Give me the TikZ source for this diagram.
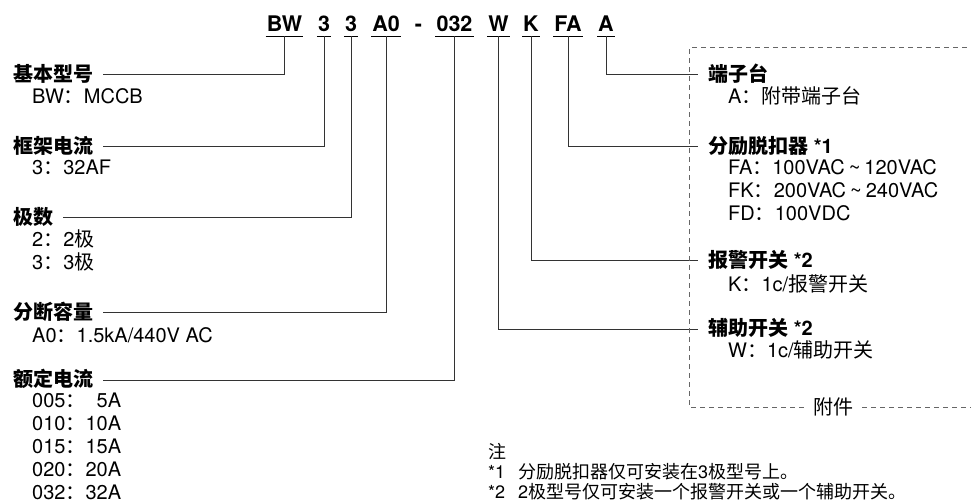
\documentclass[tikz,border=0pt]{standalone}
\usepackage{fontspec}
\setmainfont{TeX Gyre Heros}
\newfontfamily\cjkfont{Noto Sans CJK SC}
\newcommand{\zh}[1]{{\cjkfont #1}}
\usepackage{tikz}
\usetikzlibrary{positioning}

\begin{document}
\begin{tikzpicture}[x=1pt, y=-1pt]
        \tikzstyle{code}=[font=\fontsize{21.5}{24}\selectfont\bfseries,
            anchor=base, inner xsep=1pt, inner ysep=4pt, text depth=0pt]
        \tikzstyle{head}=[font=\fontsize{20}{23}\selectfont\bfseries,
            anchor=west, inner sep=0pt, text height=14pt, text depth=1pt]
        \tikzstyle{item}=[font=\fontsize{20}{23}\selectfont, align=left,
            inner sep=0pt, anchor=base west]
        \tikzstyle{lead}=[black!80, line width=1pt, shorten >=10pt]
        \tikzstyle{frame}=[black!60, line width=1pt, dash pattern=on 5pt off 4pt]
        \newcommand{\tl}{\hspace{4pt}\textasciitilde\hspace{4pt}}

        \useasboundingbox (0,0) rectangle (971,502);

        % model code
        \node[code] (bw) at (284.5,32) {BW};
        \node[code] (fr) at (324,32) {3};
        \node[code] (po) at (351,32) {3};
        \node[code] (bc) at (386,32) {A0};
        \node[code] (dash) at (418.5,32) {-};
        \node[code] (rc) at (454.5,32) {032};
        \node[code] (aux) at (498.5,32) {W};
        \node[code] (alm) at (531,32) {K};
        \node[code] (sht) at (568,32) {FA};
        \node[code] (trm) at (606,32) {A};
        \foreach \n in {bw,fr,po,bc,rc,aux,alm,sht,trm}
            \draw[line width=1pt] (\n.south west) -- (\n.south east);

        % left side (items anchored at the baseline of their last line)
        \node[head] (base) at (13,75) {\zh{基本型号}};
        \node[item] (basei) at (32,104) {BW\zh{：}MCCB};
        \node[head] (frame) at (13,147) {\zh{框架电流}};
        \node[item] (framei) at (32,175) {3\zh{：}32AF};
        \node[head] (poles) at (13,218) {\zh{极数}};
        \node[item] (polesi) at (32,270) {2\zh{：}2\zh{极}\\3\zh{：}3\zh{极}};
        \node[head] (bcap) at (13,313) {\zh{分断容量}};
        \node[item] (bcapi) at (32,342) {A0\zh{：}1.5kA/440V AC};
        \node[head] (rated) at (13,380) {\zh{额定电流}};
        \node[item] (ratedi) at (32,499)
            {005\zh{：}\hphantom{0}5A\\010\zh{：}10A\\015\zh{：}15A\\020\zh{：}20A\\032\zh{：}32A};

        % right side
        \node[head] (term) at (708,75) {\zh{端子台}};
        \node[item] (termi) at (728,104) {A\zh{：附带端子台}};
        \node[head] (shunt) at (708,147) {\zh{分励脱扣器} *1};
        \node[item] (shunti) at (728,221)
            {FA\zh{：}100VAC\tl 120VAC\\FK\zh{：}200VAC\tl 240VAC\\FD\zh{：}100VDC};
        \node[head] (alarm) at (708,261) {\zh{报警开关} *2};
        \node[item] (alarmi) at (728,292) {K\zh{：}1c/\zh{报警开关}};
        \node[head] (auxh) at (708,329) {\zh{辅助开关} *2};
        \node[item] (auxi) at (728,357) {W\zh{：}1c/\zh{辅助开关}};

        % leads
        \draw[lead] (bw.south) |- (base.east);
        \draw[lead] (fr.south) |- (frame.east);
        \draw[lead] (po.south) |- (poles.east);
        \draw[lead] (bc.south) |- (bcap.east);
        \draw[lead] (rc.south) |- (rated.east);
        \draw[lead] (trm.south) |- (term.west);
        \draw[lead] (sht.south) |- (shunt.west);
        \draw[lead] (alm.south) |- (alarm.west);
        \draw[lead] (aux.south) |- (auxh.west);

        % accessories frame
        \node[font=\fontsize{20}{23}\selectfont, fill=white, inner xsep=9pt,
            inner ysep=0pt] (acc) at (833,407) {\zh{附件}};
        \draw[frame] (acc.west) -- (689,407) -- (689,48) -- (971,48);
        \draw[frame] (acc.east) -- (971,407);

        % notes
        \node[font=\fontsize{18}{20}\selectfont, align=left, inner sep=0pt,
            anchor=base west] (notes) at (488,498)
            {\zh{注}\\{}*1\hspace{13pt}\zh{分励脱扣器仅可安装在}3\zh{极型号上。}\\
             {}*2\hspace{13pt}2\zh{极型号仅可安装一个报警开关或一个辅助开关。}};
\end{tikzpicture}
\end{document}
